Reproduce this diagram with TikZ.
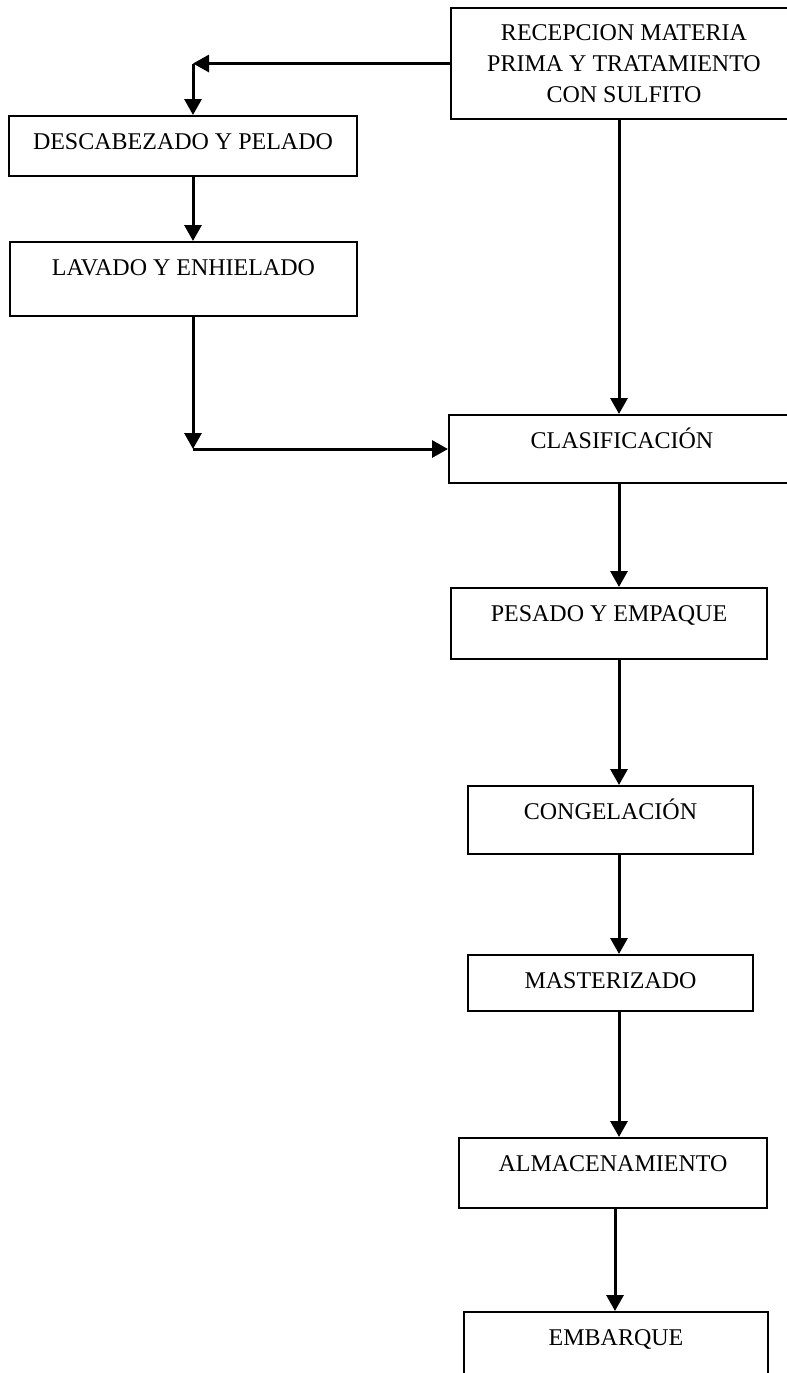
\documentclass[tikz,border=0pt]{standalone}
\usepackage{fontspec}
\setmainfont{Liberation Serif}
\usetikzlibrary{arrows.meta, positioning}

\begin{document}
\begin{tikzpicture}[x=0.5pt, y=-0.5pt,
  font=\fontsize{12pt}{15.5pt}\selectfont,
  boxbase/.style={draw, line width=1pt, anchor=north, inner sep=0pt},
  topbox/.style={boxbase, align=center},
  procbox/.style={boxbase, text height=16.75pt},
  flow/.style={-{Triangle[length=8pt, width=8.5pt]}, line width=1.5pt}]
  \useasboundingbox (0,0) rectangle (787,1373);
  \node[topbox, minimum width=173pt, minimum height=55.5pt] (rec) at (624,7) {RECEPCION MATERIA\\PRIMA Y TRATAMIENTO\\CON SULFITO};
  \node[procbox, minimum width=174pt, text depth=13.25pt] (desc) at (183,115) {DESCABEZADO Y PELADO};
  \node[procbox, minimum width=173.5pt, text depth=20.25pt] (lav) at (183.5,241) {LAVADO Y ENHIELADO};
  \node[procbox, minimum width=173pt, text depth=17.25pt] (clas) at (622,414) {CLASIFICACIÓN};
  \node[procbox, minimum width=158pt, text depth=18.75pt] (pes) at (609,587) {PESADO Y EMPAQUE};
  \node[procbox, minimum width=142.5pt, text depth=17.25pt] (cong) at (610.5,785) {CONGELACIÓN};
  \node[procbox, minimum width=142.5pt, text depth=11.25pt] (mast) at (610.5,954) {MASTERIZADO};
  \node[procbox, minimum width=154pt, text depth=18.25pt] (alm) at (613,1137) {ALMACENAMIENTO};
  \node[procbox, minimum width=152pt, text depth=23.25pt] (emb) at (616,1311) {EMBARQUE};
  % bends and column of the main line
  \coordinate (split) at (193,61);
  \coordinate (merge) at (clas.west -| split);
  \coordinate (col) at (619,0);
  \coordinate (col2) at (615,0);
  \draw[flow] (rec.west) -- (rec.west -| split);
  \draw[flow] (rec.west -| split) -- (desc.north -| split);
  \draw[flow] (desc.south -| split) -- (lav.north -| split);
  \draw[flow] (lav.south -| merge) -- (merge);
  \draw[flow] (merge) -- (clas.west);
  \draw[flow] (rec.south -| col) -- (clas.north -| col);
  \draw[flow] (clas.south -| col) -- (pes.north -| col);
  \draw[flow] (pes.south -| col) -- (cong.north -| col);
  \draw[flow] (cong.south -| col) -- (mast.north -| col);
  \draw[flow] (mast.south -| col) -- (alm.north -| col);
  \draw[flow] (alm.south -| col2) -- (emb.north -| col2);
\end{tikzpicture}
\end{document}
